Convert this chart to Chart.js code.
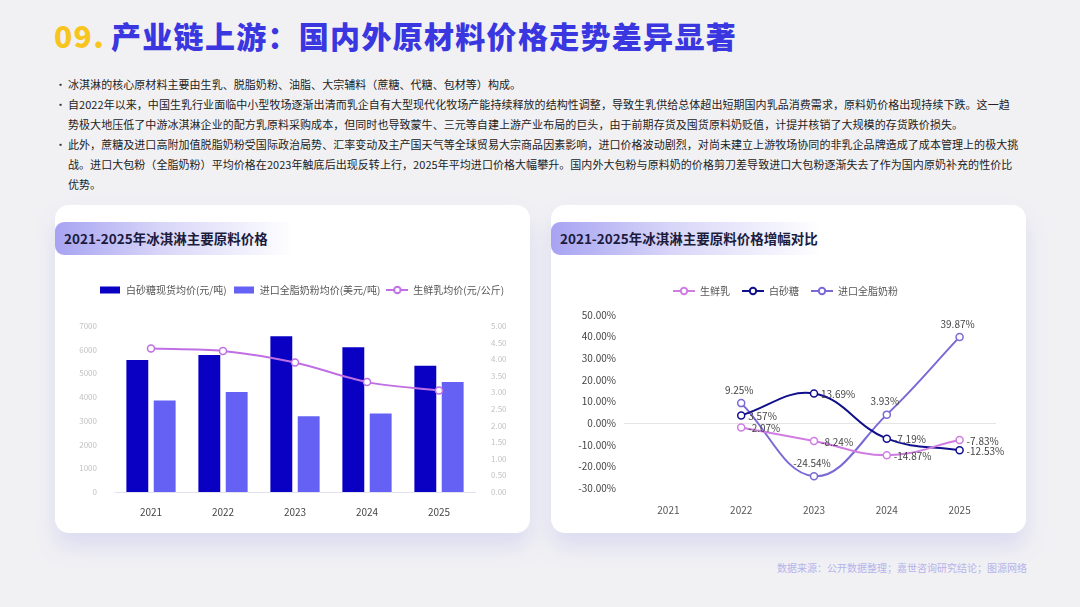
<!DOCTYPE html>
<html>
<head>
<meta charset="utf-8">
<script src="https://cdn.jsdelivr.net/npm/chart.js@4.4.1/dist/chart.umd.min.js"></script>
<style>
  html, body { margin: 0; padding: 0; }
  body {
    width: 1080px; height: 607px; overflow: hidden; position: relative;
    background: #f1f1f4;
    font-family: "Noto Sans CJK SC", "Noto Sans", sans-serif;
  }
  .title {
    position: absolute; left: 54px; top: 13px;
    font-size: 30px; font-weight: 900; color: #3a36e0; letter-spacing: 1.3px;
    line-height: 44px; white-space: nowrap;
  }
  .title .num { color: #f7c51e; margin-right: 6px; }
  .bullets { position: absolute; left: 55px; top: 74px; font-size: 11px; color: #222; }
  .bullets div { position: relative; height: 20px; line-height: 20px; white-space: nowrap; padding-left: 13px; letter-spacing: 0.05px; }
  .bullets div.b::before { content: "•"; position: absolute; left: 0; top: 0; color: #333; }
  .card {
    position: absolute; top: 205px; width: 475px; height: 328px; background: #fff;
    border-radius: 14px; box-shadow: 0 14px 22px rgba(130, 120, 230, 0.18);
  }
  .card .head {
    position: absolute; left: 0; top: 17px; height: 33px; width: 230px;
    border-radius: 9px 0 0 9px;
    background: linear-gradient(90deg, #a7a3f2 0%, #d8d6f8 45%, rgba(255,255,255,0) 100%);
    font-size: 13.5px; font-weight: 700; color: #1b1b3c; line-height: 33px; padding-left: 9px;
    white-space: nowrap;
  }
  canvas { position: absolute; }
  .source { position: absolute; left: 777px; top: 560px; font-size: 10px; color: #b6b2ea; white-space: nowrap; }
</style>
</head>
<body>
<div class="title"><span class="num">09.</span>产业链上游：国内外原材料价格走势差异显著</div>
<div class="bullets">
  <div class="b">冰淇淋的核心原材料主要由生乳、脱脂奶粉、油脂、大宗辅料（蔗糖、代糖、包材等）构成。</div>
  <div class="b">自2022年以来，中国生乳行业面临中小型牧场逐渐出清而乳企自有大型现代化牧场产能持续释放的结构性调整，导致生乳供给总体超出短期国内乳品消费需求，原料奶价格出现持续下跌。这一趋</div>
  <div>势极大地压低了中游冰淇淋企业的配方乳原料采购成本，但同时也导致蒙牛、三元等自建上游产业布局的巨头，由于前期存货及囤货原料奶贬值，计提并核销了大规模的存货跌价损失。</div>
  <div class="b">此外，蔗糖及进口高附加值脱脂奶粉受国际政治局势、汇率变动及主产国天气等全球贸易大宗商品因素影响，进口价格波动剧烈，对尚未建立上游牧场协同的非乳企品牌造成了成本管理上的极大挑</div>
  <div>战。进口大包粉（全脂奶粉）平均价格在2023年触底后出现反转上行，2025年平均进口价格大幅攀升。国内外大包粉与原料奶的价格剪刀差导致进口大包粉逐渐失去了作为国内原奶补充的性价比</div>
  <div>优势。</div>
</div>

<div class="card" style="left:55px;"><div class="head">2021-2025年冰淇淋主要原料价格</div></div>
<div class="card" style="left:551px;"><div class="head" style="width:262px;">2021-2025年冰淇淋主要原料价格增幅对比</div></div>
<canvas id="left" width="475" height="258" style="left:55px; top:272px;"></canvas>
<canvas id="right" width="475" height="258" style="left:551px; top:272px;"></canvas>
<div class="source">数据来源：公开数据整理；嘉世咨询研究结论；图源网络</div>

<script>
// 数据
const years = ['2021', '2022', '2023', '2024', '2025'];
const sugarPrice = [5570, 5780, 6570, 6100, 5320];      // 白砂糖现货均价(元/吨)
const powderPrice = [3860, 4220, 3195, 3305, 4635];     // 进口全脂奶粉均价(美元/吨)
const milkPrice = [4.32, 4.25, 3.90, 3.31, 3.06];       // 生鲜乳均价(元/公斤)

const milkGrowth = [null, -2.07, -8.24, -14.87, -7.83];
const sugarGrowth = [null, 3.57, 13.69, -7.19, -12.53];
const powderGrowth = [null, 9.25, -24.54, 3.93, 39.87];

const leftTicks = { min: 0, max: 7000, step: 1000 };
const rightTicks = { min: 0, max: 5, step: 0.5 };
const growthTicks = { min: -30, max: 50, step: 10 };

const FONT = '"Noto Sans CJK SC", "Noto Sans", sans-serif';

// 图例图标（画在小画布上）
function rectIcon(color) {
    const c = document.createElement('canvas');
    c.width = 20; c.height = 8;
    const g = c.getContext('2d');
    g.fillStyle = color;
    g.fillRect(0, 0.5, 20, 7);
    return c;
}
function lineIcon(color) {
    const c = document.createElement('canvas');
    c.width = 22; c.height = 10;
    const g = c.getContext('2d');
    g.strokeStyle = color;
    g.lineWidth = 2;
    g.beginPath(); g.moveTo(0, 5); g.lineTo(22, 5); g.stroke();
    g.fillStyle = '#fff';
    g.beginPath(); g.arc(11, 5, 3.2, 0, Math.PI * 2); g.fill(); g.stroke();
    return c;
}

function iconLabels(chart) {
    return chart.data.datasets.map((ds, i) => ({
        text: ds.label,
        pointStyle: ds.legendIcon,
        fontColor: '#555',
        hidden: !chart.isDatasetVisible(i),
        datasetIndex: i,
        lineWidth: 0
    }));
}

// 图例下方留白
function legendGap(gap) {
    return {
        id: 'legendGap',
        beforeInit(chart) {
            const fit = chart.legend.fit;
            chart.legend.fit = function () {
                fit.bind(chart.legend)();
                this.height += gap;
            };
        }
    };
}

// 左图：柱状+折线
new Chart(document.getElementById('left'), {
    data: {
        labels: years,
        datasets: [
            {
                type: 'bar', label: '白砂糖现货均价(元/吨)', data: sugarPrice,
                backgroundColor: '#0a00c4', yAxisID: 'y', order: 2,
                categoryPercentage: 0.76, barPercentage: 0.8,
                legendIcon: rectIcon('#0a00c4')
            },
            {
                type: 'bar', label: '进口全脂奶粉均价(美元/吨)', data: powderPrice,
                backgroundColor: '#6461f4', yAxisID: 'y', order: 2,
                categoryPercentage: 0.76, barPercentage: 0.8,
                legendIcon: rectIcon('#6461f4')
            },
            {
                type: 'line', label: '生鲜乳均价(元/公斤)', data: milkPrice,
                borderColor: '#c06fe3', backgroundColor: '#fff', borderWidth: 2,
                pointRadius: 3.5, pointBorderWidth: 1.5, pointBackgroundColor: '#fff',
                pointBorderColor: '#c06fe3', tension: 0.3, yAxisID: 'y1', order: 1,
                legendIcon: lineIcon('#c06fe3')
            }
        ]
    },
    options: {
        responsive: false,
        animation: false,
        layout: { padding: { top: 7, bottom: 6, left: 18, right: 0 } },
        plugins: {
            tooltip: { enabled: false },
            legend: {
                labels: {
                    usePointStyle: true, pointStyleWidth: 22, boxHeight: 8,
                    padding: 6,
                    font: { family: FONT, size: 10 },
                    generateLabels: iconLabels
                }
            }
        },
        scales: {
            x: {
                grid: { display: false },
                border: { color: '#e2e2ee' },
                ticks: { color: '#444', font: { family: FONT, size: 10 }, padding: 6 }
            },
            y: {
                position: 'left', min: leftTicks.min, max: leftTicks.max,
                grid: { display: false }, border: { display: false },
                ticks: {
                    stepSize: leftTicks.step, color: '#c2c2c2', font: { family: FONT, size: 8 }, padding: 10,
                    callback: (v) => String(v)
                },
                afterFit: (s) => { s.width = 42; }
            },
            y1: {
                position: 'right', min: rightTicks.min, max: rightTicks.max,
                grid: { display: false }, border: { display: false },
                ticks: {
                    stepSize: rightTicks.step, color: '#c2c2c2', font: { family: FONT, size: 8 }, padding: 8,
                    callback: (v) => Number(v).toFixed(2)
                },
                afterFit: (s) => { s.width = 55; }
            }
        }
    },
    plugins: [legendGap(21)]
});

// 数据标签
const pointLabels = {
    id: 'pointLabels',
    afterDatasetsDraw(chart) {
        const ctx = chart.ctx;
        ctx.save();
        ctx.font = '10px ' + FONT;
        ctx.fillStyle = '#444';
        chart.data.datasets.forEach((ds, i) => {
            const meta = chart.getDatasetMeta(i);
            meta.data.forEach((pt, j) => {
                const v = ds.data[j];
                if (v === null) return;
                const txt = v.toFixed(2) + '%';
                if (ds.labelPos === 'top') {
                    ctx.textAlign = 'center'; ctx.textBaseline = 'bottom';
                    ctx.fillText(txt, pt.x - 2, pt.y - 8);
                } else {
                    ctx.textAlign = 'left'; ctx.textBaseline = 'middle';
                    ctx.fillText(txt, pt.x + 7, pt.y + 1);
                }
            });
        });
        ctx.restore();
    }
};

function growthSet(label, data, color, pos) {
    return {
        label, data, borderColor: color, backgroundColor: '#fff', borderWidth: 2,
        pointRadius: 3.5, pointBorderWidth: 1.5, pointBackgroundColor: '#fff', pointBorderColor: color,
        tension: 0.4, spanGaps: false, labelPos: pos, legendIcon: lineIcon(color)
    };
}

// 右图：增幅对比
new Chart(document.getElementById('right'), {
    type: 'line',
    data: {
        labels: years,
        datasets: [
            growthSet('生鲜乳', milkGrowth, '#d07de2', 'right'),
            growthSet('白砂糖', sugarGrowth, '#10108c', 'right'),
            growthSet('进口全脂奶粉', powderGrowth, '#7a6ad6', 'top')
        ]
    },
    options: {
        responsive: false,
        animation: false,
        layout: { padding: { top: 2, bottom: 6, left: 24, right: 30 } },
        plugins: {
            tooltip: { enabled: false },
            legend: {
                labels: {
                    usePointStyle: true, pointStyleWidth: 22, boxHeight: 8,
                    padding: 12,
                    font: { family: FONT, size: 10 },
                    generateLabels: iconLabels
                }
            }
        },
        scales: {
            x: {
                offset: true,
                grid: { display: false }, border: { display: false },
                ticks: { color: '#555', font: { family: FONT, size: 10 }, padding: 8 }
            },
            y: {
                min: growthTicks.min, max: growthTicks.max,
                border: { display: false },
                grid: { color: (c) => c.tick && c.tick.value === 0 ? '#e4e4e4' : 'transparent' },
                ticks: {
                    stepSize: growthTicks.step, color: '#444', font: { family: FONT, size: 10 }, padding: 8,
                    callback: (v) => Number(v).toFixed(2) + '%'
                },
                afterFit: (s) => { s.width = 57; }
            }
        }
    },
    plugins: [pointLabels, legendGap(9)]
});
</script>
</body>
</html>
